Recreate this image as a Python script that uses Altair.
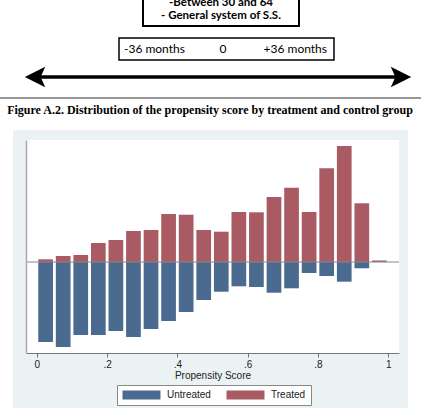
import altair as alt
import pandas as pd

# ---- data ----
bin_centers = [0.025, 0.075, 0.125, 0.175, 0.225, 0.275, 0.325, 0.375, 0.425, 0.475,
               0.525, 0.575, 0.625, 0.675, 0.725, 0.775, 0.825, 0.875, 0.925, 0.975]
treated = [2.7, 6, 7, 19, 22, 31, 32, 48, 47.3, 32, 30.3, 50, 49.7, 65, 74.3, 50, 93.7, 116, 58.7, 1.5]
untreated = [80, 85, 73, 73, 69, 75, 67, 59, 50, 38, 29.7, 24.3, 25, 30.7, 26.3, 11, 14, 19.7, 6.3, 0]
groups = ["Untreated", "Treated"]
x_ticks = [0, 0.2, 0.4, 0.6, 0.8, 1]

rows = []
for c, t, u in zip(bin_centers, treated, untreated):
    rows.append({"score": c, "val": t, "group": "Treated"})
    rows.append({"score": c, "val": -u, "group": "Untreated"})
df = pd.DataFrame(rows)

BLUE = "#4a6b8f"
RED = "#a95a62"
PANEL = "#eaf2f3"
W, H = 373, 213

one = alt.Data(values=[{"a": 1}])

panel = alt.Chart(one).mark_rect(color=PANEL).encode(
    x=alt.value(-13), x2=alt.value(382), y=alt.value(-10), y2=alt.value(268))
plotbg = alt.Chart(one).mark_rect(color="white").encode(
    x=alt.value(0), x2=alt.value(W), y=alt.value(0), y2=alt.value(H))

bars = alt.Chart(df).mark_bar(size=14.7).encode(
    x=alt.X("score:Q",
            scale=alt.Scale(domain=[-0.0166, 1.0166], nice=False, zero=False),
            axis=alt.Axis(values=x_ticks, title="Propensity Score",
                          labelExpr="datum.value == 0 ? '0' : datum.value == 1 ? '1' : replace(format(datum.value, '.1f'), '0.', '.')",
                          grid=False, tickSize=4, tickColor="#777", domainColor="#777",
                          labelPadding=2, labelFontSize=10, labelColor="#222",
                          labelFont="Liberation Sans", titleFont="Liberation Sans",
                          titleFontSize=10, titleFontWeight="normal", titleColor="#222",
                          titlePadding=1, zindex=1)),
    y=alt.Y("val:Q", scale=alt.Scale(domain=[-91, 122], nice=False),
            axis=alt.Axis(labels=False, ticks=False, grid=False, title=None,
                          domainColor="#aaa", domainWidth=1.5, zindex=1)),
    color=alt.Color("group:N", scale=alt.Scale(domain=groups, range=[BLUE, RED]),
                    legend=alt.Legend(title=None, orient="none", legendX=91, legendY=245,
                                      direction="horizontal",
                                      symbolType="M-1,-1H7.44V1H-1Z", symbolSize=81,
                                      symbolStrokeWidth=0, symbolOpacity=1,
                                      labelFont="Liberation Sans", labelFontSize=10,
                                      labelColor="#222", labelOffset=35, columnPadding=15,
                                      padding=5, strokeColor="#888", fillColor="white")),
)

zero = alt.Chart(one).mark_rule(color="#888", strokeWidth=1.2).encode(y=alt.datum(0))

# ---- decorations above the figure ----
box1 = alt.Chart(one).mark_rect(fill="white", stroke="black", strokeWidth=2).encode(
    x=alt.value(117), x2=alt.value(273), y=alt.value(-150), y2=alt.value(-114))
t1 = alt.Chart(one).mark_text(font="Lato", fontSize=11.5, fontWeight="bold", color="black",
                              align="center", baseline="middle").encode(
    x=alt.value(195), y=alt.value(-137), text=alt.value("-Between 30 and 64"))
t2 = alt.Chart(one).mark_text(font="Lato", fontSize=11.5, fontWeight="bold", color="black",
                              align="center", baseline="middle").encode(
    x=alt.value(195), y=alt.value(-124), text=alt.value("- General system of S.S."))

box2 = alt.Chart(one).mark_rect(fill="white", stroke="black", strokeWidth=1.5).encode(
    x=alt.value(93), x2=alt.value(308), y=alt.value(-102), y2=alt.value(-80))
m1 = alt.Chart(one).mark_text(font="Lato", fontSize=12, color="black", align="left",
                              baseline="middle").encode(
    x=alt.value(98), y=alt.value(-91), text=alt.value("-36 months"))
m2 = alt.Chart(one).mark_text(font="Lato", fontSize=12, color="black", align="center",
                              baseline="middle").encode(
    x=alt.value(197), y=alt.value(-91), text=alt.value("0"))
m3 = alt.Chart(one).mark_text(font="Lato", fontSize=12, color="black", align="right",
                              baseline="middle").encode(
    x=alt.value(301), y=alt.value(-91), text=alt.value("+36 months"))

shaft = alt.Chart(one).mark_rule(color="black", strokeWidth=3.5).encode(
    x=alt.value(8), x2=alt.value(378), y=alt.value(-63))
headL = alt.Chart(one).mark_point(shape="M-1,0L1,-1L0.55,0L1,1Z", size=420, filled=True,
                                  color="black", opacity=1).encode(
    x=alt.value(9), y=alt.value(-63))
headR = alt.Chart(one).mark_point(shape="M1,0L-1,-1L-0.55,0L-1,1Z", size=420, filled=True,
                                  color="black", opacity=1).encode(
    x=alt.value(375), y=alt.value(-63))

sep = alt.Chart(one).mark_rule(color="#777", strokeWidth=1.6).encode(
    x=alt.value(-26), x2=alt.value(395), y=alt.value(-42))

caption = alt.Chart(one).mark_text(font="Liberation Serif", fontSize=12, fontWeight="bold",
                                   color="black", align="center", baseline="middle").encode(
    x=alt.value(184), y=alt.value(-30),
    text=alt.value("Figure A.2. Distribution of the propensity score by treatment and control group"))

chart = alt.layer(
    panel, plotbg, bars, zero, box1, t1, t2, box2, m1, m2, m3, shaft, headL, headR, sep, caption
).properties(
    width=W, height=H,
    autosize=alt.AutoSizeParams(type="none"),
    padding={"left": 26, "top": 140, "right": 22, "bottom": 55},
    background="white",
).configure_view(stroke=None)

chart.save("out.html", embed_options={"renderer": "svg", "actions": False})
